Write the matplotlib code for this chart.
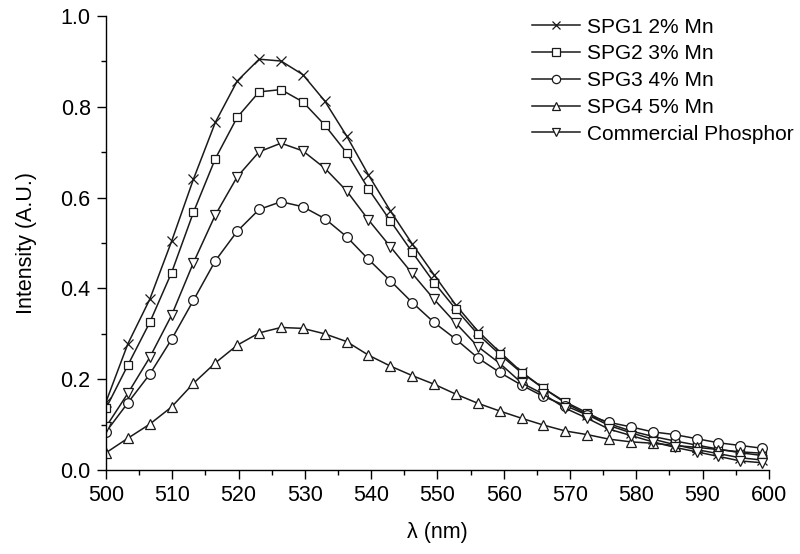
import matplotlib
matplotlib.use("Agg")
import matplotlib.pyplot as plt
import numpy as np
from matplotlib.ticker import MultipleLocator

plt.rcParams["font.family"] = ["Liberation Sans", "DejaVu Sans"]

# wavelength grid of the plotted points (nm)
wavelength = np.linspace(500, 599, 31)

spg1 = [0.150, 0.278, 0.376, 0.504, 0.641, 0.766, 0.857, 0.905, 0.901, 0.871,
        0.813, 0.736, 0.650, 0.571, 0.498, 0.430, 0.363, 0.306, 0.260, 0.216,
        0.180, 0.148, 0.122, 0.098, 0.082, 0.068, 0.056, 0.045, 0.036, 0.027,
        0.022]
spg2 = [0.136, 0.231, 0.325, 0.435, 0.568, 0.686, 0.777, 0.833, 0.838, 0.811,
        0.760, 0.699, 0.619, 0.549, 0.480, 0.413, 0.354, 0.299, 0.255, 0.214,
        0.180, 0.150, 0.126, 0.102, 0.086, 0.074, 0.064, 0.055, 0.046, 0.038,
        0.032]
spg3 = [0.084, 0.148, 0.211, 0.288, 0.374, 0.461, 0.526, 0.574, 0.591, 0.580,
        0.554, 0.514, 0.464, 0.417, 0.369, 0.325, 0.288, 0.247, 0.215, 0.187,
        0.162, 0.142, 0.121, 0.105, 0.095, 0.084, 0.078, 0.069, 0.060, 0.054,
        0.048]
spg4 = [0.038, 0.070, 0.101, 0.139, 0.191, 0.236, 0.275, 0.302, 0.314, 0.312,
        0.300, 0.283, 0.253, 0.229, 0.208, 0.189, 0.167, 0.147, 0.130, 0.114,
        0.099, 0.086, 0.078, 0.068, 0.062, 0.059, 0.054, 0.050, 0.045, 0.040,
        0.037]
commercial = [0.095, 0.169, 0.248, 0.341, 0.457, 0.562, 0.646, 0.701, 0.720,
              0.703, 0.665, 0.615, 0.551, 0.492, 0.433, 0.376, 0.323, 0.272,
              0.235, 0.192, 0.167, 0.136, 0.114, 0.090, 0.076, 0.062, 0.050,
              0.040, 0.030, 0.020, 0.016]

series = [
    ("SPG1 2% Mn", spg1, "x", 7.5),
    ("SPG2 3% Mn", spg2, "s", 6),
    ("SPG3 4% Mn", spg3, "o", 7),
    ("SPG4 5% Mn", spg4, "^", 7.5),
    ("Commercial Phosphor", commercial, "v", 7.5),
]

fig = plt.figure(figsize=(8, 5.54), dpi=100)
ax = fig.add_axes([0.1325, 0.1516, 0.8285, 0.8194])

for label, vals, marker, ms in series:
    ax.plot(wavelength, vals, color="#1a1a1a", lw=1.1, marker=marker, ms=ms,
            mfc="white", mec="#1a1a1a", mew=0.9, label=label)

ax.set_xlim(500, 600)
ax.set_ylim(0, 1.0)
ax.xaxis.set_major_locator(MultipleLocator(10))
ax.xaxis.set_minor_locator(MultipleLocator(5))
ax.yaxis.set_major_locator(MultipleLocator(0.2))
ax.yaxis.set_minor_locator(MultipleLocator(0.1))
ax.yaxis.set_major_formatter(plt.FormatStrFormatter("%.1f"))

for side in ["top", "right"]:
    ax.spines[side].set_visible(False)
for side in ["left", "bottom"]:
    ax.spines[side].set_linewidth(1.0)

ax.tick_params(which="major", direction="out", length=6.5, width=1.0,
               labelsize=15.5, pad=4.5)
ax.tick_params(which="minor", direction="out", length=3.5, width=1.0)

ax.set_xlabel("λ (nm)", fontsize=15.5, labelpad=11)
ax.set_ylabel("Intensity (A.U.)", fontsize=15.5, labelpad=17)

ax.legend(loc="upper left", bbox_to_anchor=(0.665, 0.968),
          bbox_transform=fig.transFigure, frameon=False, fontsize=15,
          borderpad=0, borderaxespad=0, handlelength=2.3,
          handletextpad=0.35, labelspacing=0.37, markerscale=0.85)

fig.savefig("out.png", dpi=100)
